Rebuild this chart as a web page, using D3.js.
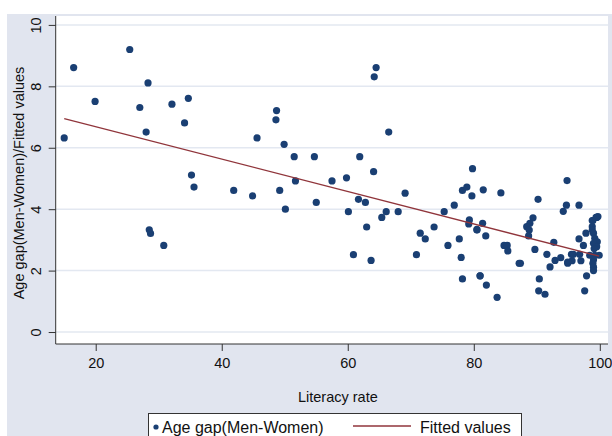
<!DOCTYPE html>
<html><head><meta charset="utf-8">
<script src="https://cdn.jsdelivr.net/npm/d3@7"></script>
<style>html,body{margin:0;padding:0;background:#fff}svg{display:block;font-family:"Liberation Sans",Arial,sans-serif}</style>
</head><body><svg id="c" width="612" height="436"></svg>
<script>
const literacy = [15.0,16.5,25.4,28.3,19.9,27.0,32.1,34.7,34.1,28.0,35.2,35.6,28.5,28.7,30.8,
48.7,48.6,45.6,49.9,51.5,54.7,61.9,41.9,44.9,49.2,51.7,57.5,59.8,50.1,55.0,60.1,61.7,60.9,
64.5,64.2,66.5,64.1,62.8,69.1,66.1,68.0,65.4,79.8,78.2,78.9,79.7,75.3,76.9,79.3,
63.0,63.7,71.5,72.3,73.7,70.9,79.2,77.7,75.9,78.0,78.2,80.5,81.0,81.5,84.3,94.8,90.2,94.7,96.7,94.2,89.4,
99.5,98.9,88.9,88.4,81.4,80.5,88.8,81.9,84.8,85.3,85.4,87.2,87.4,88.7,89.7,91.6,92.1,92.7,92.9,93.8,94.9,
95.5,95.6,96.8,96.7,97.4,97.0,97.8,81.0,82.0,83.7,90.4,90.3,91.3,97.9,97.6,
99.7,99.4,98.8,98.8,98.8,99.0,99.2,99.6,99.0,99.5,99.1,99.9,99.2,98.4,99.0,98.9,99.0,99.0,95.8,94.9];
const ageGap = [6.32,8.61,9.2,8.11,7.51,7.31,7.42,7.61,6.81,6.51,5.11,4.72,3.33,3.21,2.82,
7.21,6.91,6.32,6.11,5.71,5.71,5.71,4.61,4.43,4.61,4.92,4.92,5.02,4.0,4.22,3.92,4.32,2.52,
8.61,8.31,6.51,5.22,4.22,4.52,3.92,3.92,3.73,5.32,4.61,4.72,4.43,3.92,4.13,3.65,
3.42,2.33,3.22,3.03,3.42,2.52,3.52,3.03,2.82,2.43,1.73,3.32,1.83,4.63,4.53,4.93,4.32,4.13,4.13,3.93,3.72,
3.73,3.63,3.54,3.43,3.54,3.34,3.32,3.13,2.82,2.82,2.64,2.24,2.24,3.13,2.69,2.53,2.12,2.92,2.33,2.42,2.24,
2.53,2.32,2.53,3.03,2.82,2.32,3.22,1.83,1.53,1.13,1.73,1.34,1.23,1.83,1.34,
3.76,3.73,3.63,3.43,3.32,3.22,3.05,2.94,2.89,2.78,2.72,2.5,2.5,2.5,2.35,2.24,2.11,2.0,2.53,2.28];
const fitX = [15.0, 99.9];
const fitY = [6.95, 2.47];
const xTicks = [20,40,60,80,100];
const yTicks = [0,2,4,6,8,10];
const legendLabels = ["Age gap(Men-Women)","Fitted values"];
const xTitle = "Literacy rate";
const yTitle = "Age gap(Men-Women)/Fitted values";

const svg = d3.select("#c");
const L=55.7,R=608,T=16,B=344;
const x = d3.scaleLinear().domain([13.65,101.3]).range([L,R]);
const y = d3.scaleLinear().domain([-0.39,10.29]).range([B,T]);
const navy="#1a3f73", maroon="#90353b", bg="#e1e5ef", grid="#e3e8f1";

svg.append("rect").attr("x",7).attr("y",14).attr("width",605).attr("height",422).attr("fill",bg);
svg.append("rect").attr("x",L).attr("y",T).attr("width",R-L).attr("height",B-T).attr("fill","#fff");
svg.append("g").selectAll("line").data(yTicks).join("line")
  .attr("x1",L).attr("x2",R).attr("y1",d=>y(d)).attr("y2",d=>y(d))
  .attr("stroke",grid).attr("stroke-width",1.5);

const ya = svg.append("g").attr("transform",`translate(${L},0)`)
  .call(d3.axisLeft(y).tickValues(yTicks).tickSize(7).tickSizeOuter(0).tickFormat(d3.format("d")));
ya.select(".domain").attr("stroke","#333").attr("d",`M0,${T}V${B}`);
ya.selectAll(".tick line").attr("stroke","#333");
ya.selectAll(".tick text").attr("transform","rotate(-90)").attr("x",0).attr("y",-15)
  .attr("dy","0").attr("text-anchor","middle").attr("font-size",14.5).attr("fill","#111")
  .attr("font-family","Liberation Sans, Arial, sans-serif");

const xa = svg.append("g").attr("transform",`translate(0,${B})`)
  .call(d3.axisBottom(x).tickValues(xTicks).tickSize(7).tickSizeOuter(0).tickFormat(d3.format("d")));
xa.select(".domain").attr("stroke","#333").attr("d",`M${L},0H${R}`);
xa.selectAll(".tick line").attr("stroke","#333");
xa.selectAll(".tick text").attr("y",14).attr("dy","0.71em").attr("font-size",14.5).attr("fill","#111")
  .attr("font-family","Liberation Sans, Arial, sans-serif");

svg.append("g").selectAll("circle").data(literacy.map((v,i)=>[v,ageGap[i]])).join("circle")
  .attr("cx",d=>x(d[0])).attr("cy",d=>y(d[1])).attr("r",3.6).attr("fill",navy);

svg.append("path").datum(fitX.map((v,i)=>[v,fitY[i]]))
  .attr("d",d3.line().x(d=>x(d[0])).y(d=>y(d[1]))).attr("stroke",maroon).attr("stroke-width",1.3).attr("fill","none");

svg.append("text").attr("x",(L+R)/2+6).attr("y",402).attr("text-anchor","middle").attr("font-size",14.5).attr("fill","#111").text(xTitle);
svg.append("text").attr("transform",`translate(24,${(T+B)/2+3}) rotate(-90)`).attr("text-anchor","middle").attr("font-size",14.5).attr("fill","#111").text(yTitle);

const lg = svg.append("g");
lg.append("rect").attr("x",148.5).attr("y",413.5).attr("width",373).attr("height",30).attr("fill","#fff").attr("stroke","#333");
lg.append("circle").attr("cx",156).attr("cy",427).attr("r",2.6).attr("fill",navy);
lg.append("text").attr("x",162).attr("y",433).attr("font-size",16).attr("fill","#111").text(legendLabels[0]);
lg.append("line").attr("x1",353).attr("x2",411).attr("y1",426).attr("y2",426).attr("stroke",maroon).attr("stroke-width",1.3);
lg.append("text").attr("x",420).attr("y",433).attr("font-size",16).attr("fill","#111").text(legendLabels[1]);
</script></body></html>
